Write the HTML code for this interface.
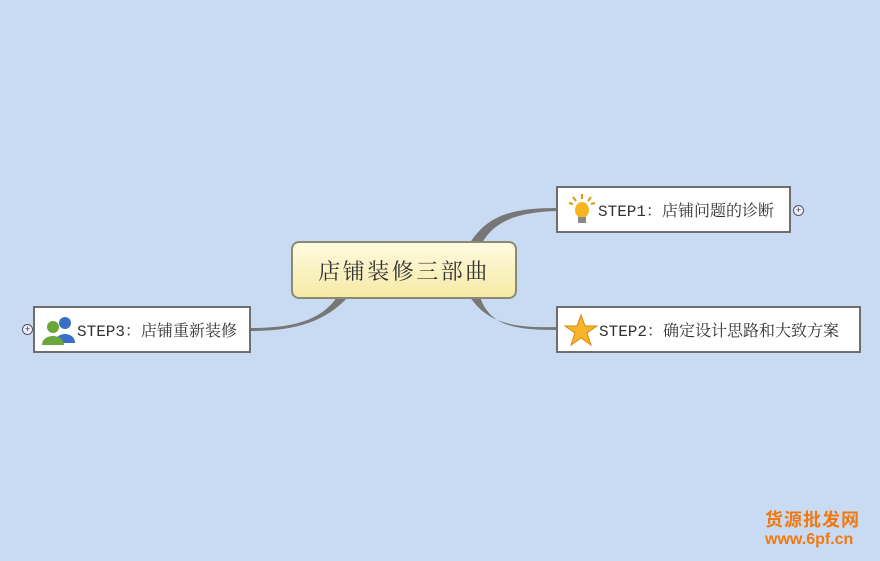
<!DOCTYPE html>
<html><head><meta charset="utf-8"><style>
body{margin:0;width:880px;height:561px;overflow:hidden;background:#c9dbf3;font-family:"Liberation Serif","Noto Serif CJK SC",serif;position:relative}
.box{position:absolute;background:#fff;border:2px solid #6e6e6e;box-sizing:border-box;font-size:16px;color:#333;display:flex;align-items:center;font-family:"Liberation Mono","Noto Serif CJK SC",serif;white-space:nowrap}
.c{position:absolute;left:291px;top:241px;width:226px;height:58px;border:2px solid #8a8a72;border-radius:8px;box-sizing:border-box;background:linear-gradient(#fffbe0,#f6e9a6);font-size:22px;color:#333;display:flex;align-items:center;justify-content:center;letter-spacing:2.5px}
.plus{position:absolute;width:9px;height:9px;border:1px solid #556;border-radius:50%;font-size:9px;line-height:9px;text-align:center;color:#334;background:#eef;font-family:"Liberation Sans",sans-serif}
.wm{position:absolute;left:765px;font-family:"Liberation Sans","Noto Sans CJK SC",sans-serif;color:#f07a10;font-weight:bold}
</style></head><body>
<svg width="880" height="561" style="position:absolute;left:0;top:0">
<path d="M470 243 C488 214 515 208 557 208 L557 211 C520 212 495 220 482 243Z" fill="#777"/>
<path d="M470 297 C488 324 515 328 557 327 L557 330 C515 330 490 326 480 297Z" fill="#777"/>
<path d="M337 297 C320 322 290 328 250 328 L250 331 C295 331 325 322 348 297Z" fill="#777"/>
</svg>
<div class="c">店铺装修三部曲</div>
<div class="box" style="left:556px;top:186px;width:235px;height:47px">
<svg width="28" height="34" style="margin:0 2px 0 10px"><g stroke="#d89a10" stroke-width="2"><line x1="14" y1="1" x2="14" y2="6"/><line x1="5" y1="4" x2="8" y2="8"/><line x1="23" y1="4" x2="20" y2="8"/><line x1="1" y1="10" x2="5" y2="11"/><line x1="27" y1="10" x2="23" y2="11"/></g><ellipse cx="14" cy="17" rx="7" ry="8" fill="#f7b520"/><rect x="10" y="24" width="8" height="6" fill="#888"/></svg>STEP1：店铺问题的诊断</div>
<div class="plus" style="left:793px;top:205px">+</div>
<div class="box" style="left:556px;top:306px;width:305px;height:47px">
<svg width="34" height="34" style="margin:0 1px 0 6px"><polygon points="17,2 21,13 33,13 23,20 27,32 17,25 7,32 11,20 1,13 13,13" fill="#f9b52a" stroke="#d8870a"/></svg>STEP2：确定设计思路和大致方案</div>
<div class="box" style="left:33px;top:306px;width:218px;height:47px">
<svg width="34" height="30" style="margin:0 2px 0 6px"><circle cx="24" cy="8" r="6" fill="#3a6fc8"/><path d="M14 28 C14 16 34 16 34 28Z" fill="#3a6fc8"/><circle cx="12" cy="12" r="6" fill="#6aa63a"/><path d="M1 30 C1 18 23 18 23 30Z" fill="#6aa63a"/></svg>STEP3：店铺重新装修</div>
<div class="plus" style="left:22px;top:324px">+</div>
<div class="wm" style="top:506px;font-size:18px;letter-spacing:1px">货源批发网</div>
<div class="wm" style="top:531px;font-size:16px">www.6pf.cn</div>
</body></html>
